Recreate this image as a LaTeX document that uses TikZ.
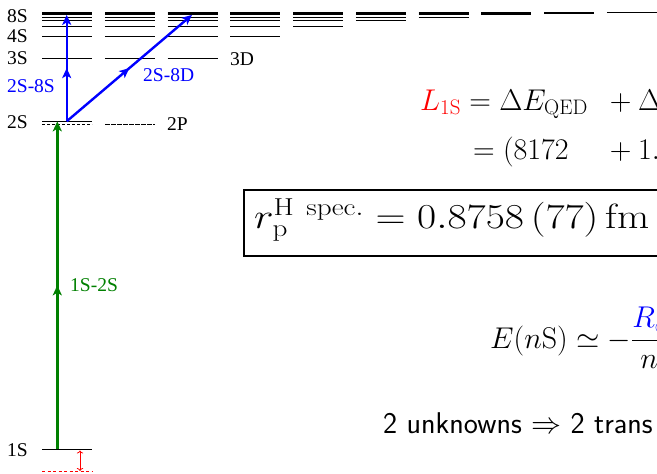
\RequirePackage{fix-cm}
\documentclass[tikz,border=0pt]{standalone}
\usepackage{graphicx}
\usepackage{fontspec}
\newfontfamily\timesf{Liberation Serif}
\usetikzlibrary{arrows.meta,decorations.markings}
\definecolor{dgreen}{rgb}{0,0.5,0}
\begin{document}
\begin{tikzpicture}[x=1pt,y=-1pt,
  level/.style={line width=0.9pt},
  lab/.style={font=\fontsize{19.5}{22}\selectfont\timesf, inner sep=0pt},
  trans/.style={line width=2.4pt, -{Stealth[length=10pt,width=9pt,inset=2.5pt]},
    postaction={decorate},
    decoration={markings, mark=at position 0.5 with {\arrow{Stealth[length=10pt,width=9pt,inset=2.5pt]}}}},
  eq/.style={font=\fontsize{30}{36}\selectfont, inner sep=0pt, anchor=base west},
]
\useasboundingbox (0,0) rectangle (657,474);
\clip (0,0) rectangle (657,474);
\fill[white] (0,0) rectangle (657,474);

% energy levels
\foreach \l in {0,...,9} {
  \ifnum\l=0 \def\nstart{2}\else\pgfmathtruncatemacro\nstart{max(\l+1,3)}\fi
  \foreach \n in {\nstart,...,10} {
    \pgfmathsetmacro\yy{7.8+454/(\n*\n)}
    \draw[level] ({42+62.75*\l},\yy) -- ++(50,0);
  }
}
\draw[level] (42,449.3) -- (92,449.3);
\draw[level, dash pattern=on 3pt off 2pt] (42,124.5) -- (92,124.5);
\draw[level, dash pattern=on 5pt off 1pt] (105,124.5) -- (155,124.5);
\draw[red, line width=0.9pt, dash pattern=on 3pt off 2.5pt] (42,471) -- (92,471);
\coordinate (r1) at (80,450.5);
\coordinate (r2) at (80,471);
\draw[red, line width=0.8pt, {To[length=3pt]}-{To[length=3pt]}] (r1) -- (r2);

% labels
\node[lab] (t8s) at (17.5,16) {8S};
\node[lab] (t4s) at (17.5,36.5) {4S};
\node[lab] (t3s) at (17.5,58.5) {3S};
\node[lab] (t2s) at (17.5,122) {2S};
\node[lab] (t1s) at (17.5,450) {1S};
\node[lab, anchor=west] (t2p) at (167,124) {2P};
\node[lab, anchor=west] (t3d) at (230,59) {3D};

% transitions
\coordinate (g1) at (57.3,449.3);
\coordinate (g2) at (57.3,121.3);
\coordinate (b0) at (66.7,121.3);
\coordinate (b8s) at (66.7,14.9);
\coordinate (b8d) at (192,14.9);
\draw[trans, dgreen] (g1) -- (g2);
\draw[trans, blue] (b0) -- (b8s);
\draw[trans, blue] (b0) -- (b8d);
\node[lab, text=blue] (l28s) at (31,86) {2S-8S};
\node[lab, text=blue, anchor=west] (l28d) at (143,75) {2S-8D};
\node[lab, text=dgreen, anchor=west] (l12) at (70,285) {1S-2S};

% equations
\node[eq] (e1a) at (420,110) {${\color{red}L_{\mathrm{1S}}} = \Delta E_{\mathrm{QED}}$};
\node[eq] (e1b) at (603,110) {${}+\Delta$};
\node[eq] (e2a) at (473,159) {$=(8172$};
\node[eq] (e2b) at (603,159) {${}+1.$};

\draw[line width=2pt] (244,190) rectangle (690,255.5);
\node[eq, font=\fontsize{35}{42}\selectfont] (rp) at (254,228)
  {\scalebox{1.19}[1]{$r_{\mathrm{p}}^{\mathrm{H\ spec.}} = 0.8758\,(77)\,\mathrm{fm}$}};

\node[eq] (en) at (490,348) {$\displaystyle E(n\mathrm{S}) \simeq -\frac{{\color{blue}R_\infty}}{n^2}$};

\node[eq, font=\fontsize{30}{36}\selectfont\sffamily] (unk) at (383,433) {2 unknowns $\Rightarrow$ 2 trans};
\end{tikzpicture}
\end{document}
